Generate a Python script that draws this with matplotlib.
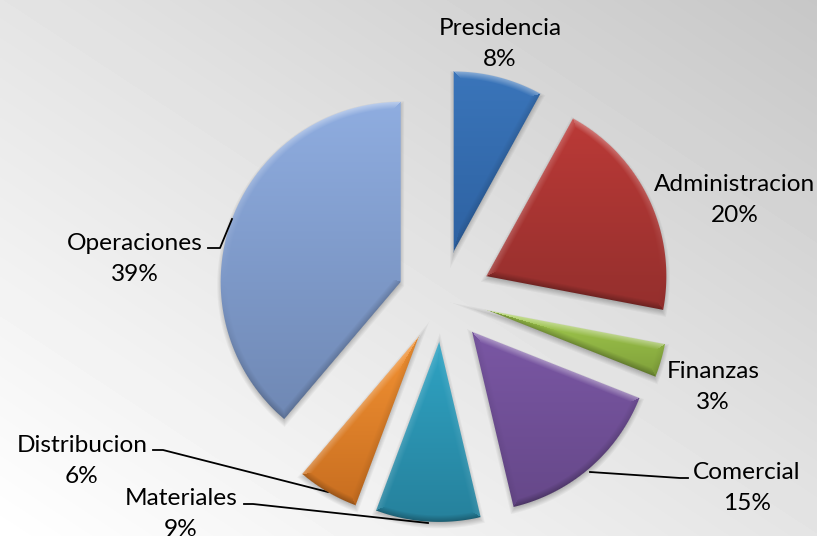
#!/usr/bin/env python3
import numpy as np
import matplotlib
matplotlib.use("Agg")
import matplotlib.pyplot as plt
from matplotlib.colors import to_rgb

# data (slice angles give the unrounded shares)
areas = ['Presidencia', 'Administracion', 'Finanzas', 'Comercial',
         'Materiales', 'Distribucion', 'Operaciones']
shares = [8.0, 20.0, 3.0, 15.3, 9.4, 5.5, 38.8]

W, H = 817, 536
plt.rcParams['font.family'] = ['Lato', 'DejaVu Sans']

fig = plt.figure(figsize=(W / 100, H / 100), dpi=100)
ax = fig.add_axes([0, 0, 1, 1])

# background: diagonal grey, white in the lower left
gx, gy = np.meshgrid(np.linspace(0, 1, W), np.linspace(0, 1, H))
t = (gx + (1 - gy)) / 2
grey = np.interp(t, [0, 0.5, 1], [1.0, 0.895, 0.78])
ax.imshow(grey, cmap='gray', vmin=0, vmax=1, extent=(0, W, H, 0), zorder=0, aspect='auto')

tops = ['#3a75ba', '#bb3a37', '#a2cb4e', '#7a57a4', '#2fa3c3', '#f39233', '#8fade0']
bottoms = ['#2e62a2', '#942f2d', '#7f9f3a', '#664889', '#26819c', '#c86e20', '#6f88b4']
explode = [47, 49, 48, 46, 45, 46, 44]

wedges, _ = ax.pie(shares, center=(442, 297), radius=180, startangle=-90, counterclock=True,
                   explode=explode, colors=tops, frame=True)


def shade_wedge(w, top, bottom, zorder):
    # bevelled fill worked out from the distance to the wedge outline
    cx, cy = w.center
    t1, t2 = np.radians(w.theta1), np.radians(w.theta2)
    x0, x1 = int(cx - w.r - 12), int(cx + w.r + 12)
    y0, y1 = int(cy - w.r - 12), int(cy + w.r + 14)
    px, py = np.meshgrid(np.arange(x0, x1) + 0.5, np.arange(y0, y1) + 0.5)
    dx, dy = px - cx, py - cy
    rho = np.hypot(dx, dy) + 1e-6
    d_arc = w.r - rho
    d1 = dx * -np.sin(t1) + dy * np.cos(t1)
    d2 = dx * np.sin(t2) - dy * np.cos(t2)
    d = np.minimum(np.minimum(d_arc, d1), d2)
    # outward normal (only its vertical part matters for the light)
    ny = np.where(d == d_arc, dy / rho, np.where(d == d1, -np.cos(t1), np.cos(t2)))

    inside = d > 0
    ymin, ymax = py[inside].min(), py[inside].max()
    f = np.clip((py - ymin) / (ymax - ymin), 0, 1)[..., None]
    rgb = np.array(to_rgb(top)) * (1 - f) + np.array(to_rgb(bottom)) * f

    bevel = np.clip(1 - d / 7, 0, 1)
    light = bevel * -ny
    rgb = np.where(light[..., None] > 0,
                   rgb + (1 - rgb) * light[..., None] * 0.4,
                   rgb * (1 + light[..., None] * 0.28))
    alpha = np.clip(d + 0.5, 0, 1)

    # soft drop shadow, a little lower than the wedge
    ds = np.minimum(np.minimum(w.r - np.hypot(dx, dy - 3), dx * -np.sin(t1) + (dy - 3) * np.cos(t1)),
                    dx * np.sin(t2) - (dy - 3) * np.cos(t2))
    sh = np.zeros(ds.shape + (4,))
    sh[..., 3] = np.clip((ds + 4) / 8, 0, 1) * 0.3
    ext = (x0, x1, y1, y0)
    ax.imshow(sh, extent=ext, zorder=1, aspect='auto', interpolation='bilinear')
    ax.imshow(np.dstack([rgb, alpha]), extent=ext, zorder=zorder, aspect='auto', interpolation='bilinear')


for w, top, bottom in zip(wedges, tops, bottoms):
    w.set_visible(False)
    shade_wedge(w, top, bottom, 3)

# leader lines
ax.plot([208, 220, 232], [248, 248, 219], color='black', lw=1.3, zorder=4)
ax.plot([688, 680, 590], [478, 478, 472], color='black', lw=1.3, zorder=2)
ax.plot([153, 163, 328], [450, 450, 492], color='black', lw=1.3, zorder=2)
ax.plot([244, 253, 428], [504, 504, 523], color='black', lw=1.3, zorder=4)

label_x = [500, 735, 713, 747, 181, 82, 135]
label_y = [44, 200, 387, 488, 514, 461, 259]
for name, share, lx, ly in zip(areas, shares, label_x, label_y):
    ax.text(lx, ly, f"{name}\n{share:.0f}%", ha='center', va='center', fontsize=17.6,
            color='black', linespacing=1.58, zorder=5)

ax.set_xlim(0, W)
ax.set_ylim(H, 0)
ax.set_aspect('auto')
ax.axis('off')
fig.savefig('out.png', dpi=100)
